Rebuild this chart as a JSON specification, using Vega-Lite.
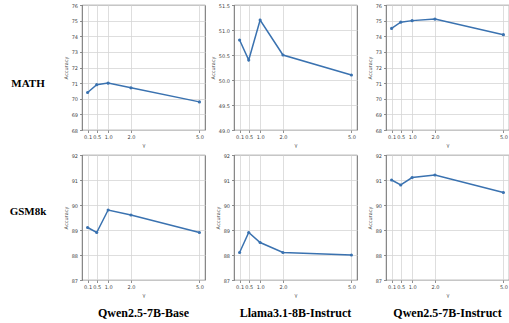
{
  "$schema": "https://vega.github.io/schema/vega-lite/v6.json",
  "padding": {"left": 3, "top": 2, "right": 0, "bottom": 0},
  "background": "white",
  "datasets": {
    "acc": [
      {"metric": "MATH", "model": "Qwen2.5-7B-Base", "gamma": 0.1, "acc": 70.4},
      {"metric": "MATH", "model": "Qwen2.5-7B-Base", "gamma": 0.5, "acc": 70.9},
      {"metric": "MATH", "model": "Qwen2.5-7B-Base", "gamma": 1.0, "acc": 71.0},
      {"metric": "MATH", "model": "Qwen2.5-7B-Base", "gamma": 2.0, "acc": 70.7},
      {"metric": "MATH", "model": "Qwen2.5-7B-Base", "gamma": 5.0, "acc": 69.8},
      {"metric": "MATH", "model": "Llama3.1-8B-Instruct", "gamma": 0.1, "acc": 50.8},
      {"metric": "MATH", "model": "Llama3.1-8B-Instruct", "gamma": 0.5, "acc": 50.4},
      {"metric": "MATH", "model": "Llama3.1-8B-Instruct", "gamma": 1.0, "acc": 51.2},
      {"metric": "MATH", "model": "Llama3.1-8B-Instruct", "gamma": 2.0, "acc": 50.5},
      {"metric": "MATH", "model": "Llama3.1-8B-Instruct", "gamma": 5.0, "acc": 50.1},
      {"metric": "MATH", "model": "Qwen2.5-7B-Instruct", "gamma": 0.1, "acc": 74.5},
      {"metric": "MATH", "model": "Qwen2.5-7B-Instruct", "gamma": 0.5, "acc": 74.9},
      {"metric": "MATH", "model": "Qwen2.5-7B-Instruct", "gamma": 1.0, "acc": 75.0},
      {"metric": "MATH", "model": "Qwen2.5-7B-Instruct", "gamma": 2.0, "acc": 75.1},
      {"metric": "MATH", "model": "Qwen2.5-7B-Instruct", "gamma": 5.0, "acc": 74.1},
      {"metric": "GSM8k", "model": "Qwen2.5-7B-Base", "gamma": 0.1, "acc": 89.1},
      {"metric": "GSM8k", "model": "Qwen2.5-7B-Base", "gamma": 0.5, "acc": 88.9},
      {"metric": "GSM8k", "model": "Qwen2.5-7B-Base", "gamma": 1.0, "acc": 89.8},
      {"metric": "GSM8k", "model": "Qwen2.5-7B-Base", "gamma": 2.0, "acc": 89.6},
      {"metric": "GSM8k", "model": "Qwen2.5-7B-Base", "gamma": 5.0, "acc": 88.9},
      {"metric": "GSM8k", "model": "Llama3.1-8B-Instruct", "gamma": 0.1, "acc": 88.1},
      {"metric": "GSM8k", "model": "Llama3.1-8B-Instruct", "gamma": 0.5, "acc": 88.9},
      {"metric": "GSM8k", "model": "Llama3.1-8B-Instruct", "gamma": 1.0, "acc": 88.5},
      {"metric": "GSM8k", "model": "Llama3.1-8B-Instruct", "gamma": 2.0, "acc": 88.1},
      {"metric": "GSM8k", "model": "Llama3.1-8B-Instruct", "gamma": 5.0, "acc": 88.0},
      {"metric": "GSM8k", "model": "Qwen2.5-7B-Instruct", "gamma": 0.1, "acc": 91.0},
      {"metric": "GSM8k", "model": "Qwen2.5-7B-Instruct", "gamma": 0.5, "acc": 90.8},
      {"metric": "GSM8k", "model": "Qwen2.5-7B-Instruct", "gamma": 1.0, "acc": 91.1},
      {"metric": "GSM8k", "model": "Qwen2.5-7B-Instruct", "gamma": 2.0, "acc": 91.2},
      {"metric": "GSM8k", "model": "Qwen2.5-7B-Instruct", "gamma": 5.0, "acc": 90.5}
    ],
    "rows": [
      {"label": "MATH"},
      {"label": "GSM8k"}
    ]
  },
  "columns": 4,
  "spacing": {"row": 25, "column": 29},
  "bounds": "flush",
  "concat": [
    {
      "width": 50, "height": 125,
      "view": {"stroke": null},
      "data": {"name": "rows"},
      "transform": [{"filter": "datum.label === 'MATH'"}],
      "mark": {"type": "text", "font": "Liberation Serif", "fontSize": 11, "fontWeight": "bold", "color": "black", "align": "center", "baseline": "middle", "dy": 16.5},
      "encoding": {"text": {"field": "label"}}
    },
    {
      "width": 123, "height": 125,
      "data": {"name": "acc"},
      "transform": [{"filter": "datum.metric === 'MATH' && datum.model === 'Qwen2.5-7B-Base'"}],
      "mark": {"type": "line", "color": "#3a72b0", "strokeWidth": 1.5, "point": {"filled": true, "size": 10, "color": "#3a72b0"}},
      "encoding": {
        "x": {"field": "gamma", "type": "quantitative", "scale": {"domain": [-0.145, 5.245], "nice": false, "zero": false}, "axis": {"values": [0.1, 0.5, 1, 2, 5], "format": ".1f", "title": "γ"}},
        "y": {"field": "acc", "type": "quantitative", "scale": {"domain": [68, 76], "nice": false, "zero": false}, "axis": {"values": [68, 69, 70, 71, 72, 73, 74, 75, 76], "format": "d", "title": "Accuracy"}}
      }
    },
    {
      "width": 123, "height": 125,
      "data": {"name": "acc"},
      "transform": [{"filter": "datum.metric === 'MATH' && datum.model === 'Llama3.1-8B-Instruct'"}],
      "mark": {"type": "line", "color": "#3a72b0", "strokeWidth": 1.5, "point": {"filled": true, "size": 10, "color": "#3a72b0"}},
      "encoding": {
        "x": {"field": "gamma", "type": "quantitative", "scale": {"domain": [-0.145, 5.245], "nice": false, "zero": false}, "axis": {"values": [0.1, 0.5, 1, 2, 5], "format": ".1f", "title": "γ"}},
        "y": {"field": "acc", "type": "quantitative", "scale": {"domain": [49, 51.5], "nice": false, "zero": false}, "axis": {"values": [49, 49.5, 50, 50.5, 51, 51.5], "format": ".1f", "title": "Accuracy"}}
      }
    },
    {
      "width": 123, "height": 125,
      "data": {"name": "acc"},
      "transform": [{"filter": "datum.metric === 'MATH' && datum.model === 'Qwen2.5-7B-Instruct'"}],
      "mark": {"type": "line", "color": "#3a72b0", "strokeWidth": 1.5, "point": {"filled": true, "size": 10, "color": "#3a72b0"}},
      "encoding": {
        "x": {"field": "gamma", "type": "quantitative", "scale": {"domain": [-0.145, 5.245], "nice": false, "zero": false}, "axis": {"values": [0.1, 0.5, 1, 2, 5], "format": ".1f", "title": "γ"}},
        "y": {"field": "acc", "type": "quantitative", "scale": {"domain": [68, 76], "nice": false, "zero": false}, "axis": {"values": [68, 69, 70, 71, 72, 73, 74, 75, 76], "format": "d", "title": "Accuracy"}}
      }
    },
    {
      "width": 50, "height": 125,
      "view": {"stroke": null},
      "data": {"name": "rows"},
      "transform": [{"filter": "datum.label === 'GSM8k'"}],
      "mark": {"type": "text", "font": "Liberation Serif", "fontSize": 11, "fontWeight": "bold", "color": "black", "align": "center", "baseline": "middle", "dy": -5.5},
      "encoding": {"text": {"field": "label"}}
    },
    {
      "width": 123, "height": 125,
      "title": {"text": "Qwen2.5-7B-Base", "orient": "bottom", "offset": 10, "font": "Liberation Serif", "fontSize": 12, "fontWeight": "bold", "color": "black", "anchor": "middle"},
      "data": {"name": "acc"},
      "transform": [{"filter": "datum.metric === 'GSM8k' && datum.model === 'Qwen2.5-7B-Base'"}],
      "mark": {"type": "line", "color": "#3a72b0", "strokeWidth": 1.5, "point": {"filled": true, "size": 10, "color": "#3a72b0"}},
      "encoding": {
        "x": {"field": "gamma", "type": "quantitative", "scale": {"domain": [-0.145, 5.245], "nice": false, "zero": false}, "axis": {"values": [0.1, 0.5, 1, 2, 5], "format": ".1f", "title": "γ"}},
        "y": {"field": "acc", "type": "quantitative", "scale": {"domain": [87, 92], "nice": false, "zero": false}, "axis": {"values": [87, 88, 89, 90, 91, 92], "format": "d", "title": "Accuracy"}}
      }
    },
    {
      "width": 123, "height": 125,
      "title": {"text": "Llama3.1-8B-Instruct", "orient": "bottom", "offset": 10, "font": "Liberation Serif", "fontSize": 12, "fontWeight": "bold", "color": "black", "anchor": "middle"},
      "data": {"name": "acc"},
      "transform": [{"filter": "datum.metric === 'GSM8k' && datum.model === 'Llama3.1-8B-Instruct'"}],
      "mark": {"type": "line", "color": "#3a72b0", "strokeWidth": 1.5, "point": {"filled": true, "size": 10, "color": "#3a72b0"}},
      "encoding": {
        "x": {"field": "gamma", "type": "quantitative", "scale": {"domain": [-0.145, 5.245], "nice": false, "zero": false}, "axis": {"values": [0.1, 0.5, 1, 2, 5], "format": ".1f", "title": "γ"}},
        "y": {"field": "acc", "type": "quantitative", "scale": {"domain": [87, 92], "nice": false, "zero": false}, "axis": {"values": [87, 88, 89, 90, 91, 92], "format": "d", "title": "Accuracy"}}
      }
    },
    {
      "width": 123, "height": 125,
      "title": {"text": "Qwen2.5-7B-Instruct", "orient": "bottom", "offset": 10, "font": "Liberation Serif", "fontSize": 12, "fontWeight": "bold", "color": "black", "anchor": "middle"},
      "data": {"name": "acc"},
      "transform": [{"filter": "datum.metric === 'GSM8k' && datum.model === 'Qwen2.5-7B-Instruct'"}],
      "mark": {"type": "line", "color": "#3a72b0", "strokeWidth": 1.5, "point": {"filled": true, "size": 10, "color": "#3a72b0"}},
      "encoding": {
        "x": {"field": "gamma", "type": "quantitative", "scale": {"domain": [-0.145, 5.245], "nice": false, "zero": false}, "axis": {"values": [0.1, 0.5, 1, 2, 5], "format": ".1f", "title": "γ"}},
        "y": {"field": "acc", "type": "quantitative", "scale": {"domain": [87, 92], "nice": false, "zero": false}, "axis": {"values": [87, 88, 89, 90, 91, 92], "format": "d", "title": "Accuracy"}}
      }
    }
  ],
  "config": {
    "view": {"stroke": "#444444", "strokeWidth": 0.8},
    "axis": {
      "domain": false,
      "grid": true,
      "gridColor": "#d6d6d6",
      "gridWidth": 0.8,
      "ticks": true,
      "tickSize": 2.5,
      "tickColor": "#444444",
      "tickWidth": 0.6,
      "labelFont": "DejaVu Sans",
      "labelFontSize": 5,
      "labelColor": "#444444",
      "labelPadding": 2,
      "titleFont": "DejaVu Sans",
      "titleFontSize": 5,
      "titleFontWeight": "normal",
      "titleColor": "#444444",
      "titlePadding": 3
    }
  }
}
